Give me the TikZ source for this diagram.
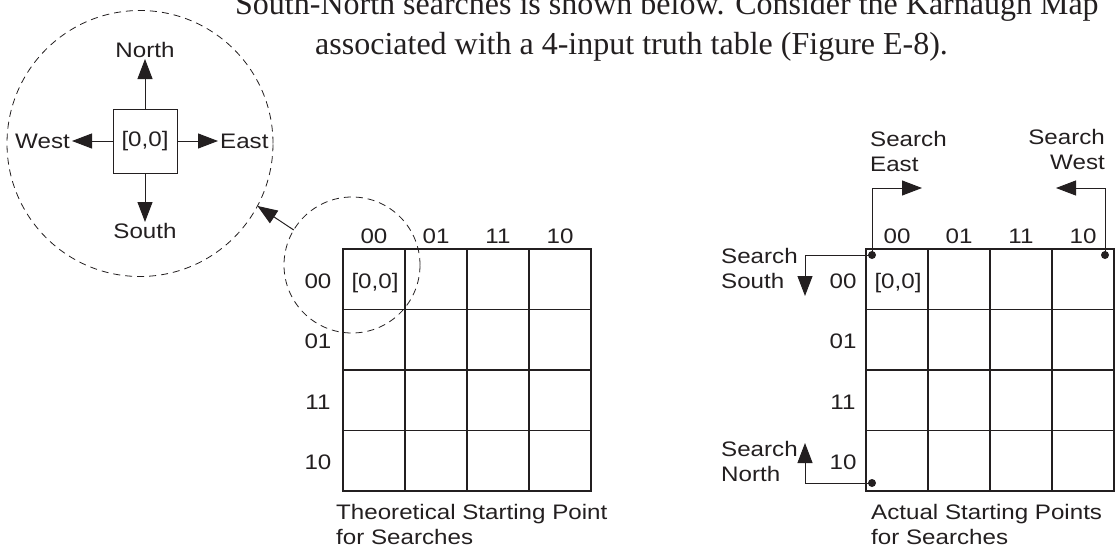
\documentclass[tikz,border=0pt]{standalone}
\usepackage{fontspec}
\setmainfont{Liberation Serif}
\newfontfamily\handfont[FakeStretch=1.15]{Liberation Sans}
\usepackage{tikz}
\usetikzlibrary{arrows.meta,positioning,calc}
\definecolor{inkblack}{RGB}{35,31,32}

\begin{document}
\begin{tikzpicture}[x=1pt,y=-1pt,color=inkblack,
  lbl/.style={font=\handfont\fontsize{21}{25}\selectfont, inner sep=1pt},
  dirlbl/.style={lbl, inner xsep=2pt, inner ysep=1pt},
  cell/.style={draw, line width=1.6pt, minimum width=62pt, minimum height=60.5pt, inner sep=0pt, outer sep=0pt},
  ring/.style={draw, line width=0.8pt, dash pattern=on 7pt off 5pt, circle, inner sep=0pt, outer sep=0pt},
  tip/.style={-{Triangle[length=20pt,width=15pt]}, line width=1pt},
  dot/.style={circle, fill, inner sep=0pt, minimum size=8pt}]
\useasboundingbox (0,0) rectangle (1120,554);

\node[anchor=base west, inner sep=0pt, font=\fontsize{32}{38}\selectfont] (lineA) at (235,15) {South-North searches is shown below. Consider the Karnaugh Map};
\node[anchor=base west, inner sep=0pt, font=\fontsize{32}{38}\selectfont] (lineB) at (315,54) {associated with a 4-input truth table (Figure E-8).};

\node[ring, minimum size=266pt] (bigring) at (140,143.5) {};
\node[ring, minimum size=136pt] (smallring) at (352,265) {};
\draw[tip] (smallring.149) -- (bigring.-28);

\node[draw, line width=0.8pt, minimum size=64pt, lbl] (origin) at (145,141) {[0,0]};
\node[dirlbl, anchor=south] (north) at (145,59) {North};
\node[dirlbl, anchor=north] (south) at (145,222) {South};
\node[dirlbl, anchor=east] (west) at (72,141) {West};
\node[dirlbl, anchor=west] (east) at (218,141) {East};
\draw[tip] (origin) -- (north);
\draw[tip] (origin) -- (south);
\draw[tip] (origin) -- (west);
\draw[tip] (origin) -- (east);

\foreach \c in {0,...,3}{
  \foreach \r in {0,...,3}{
    \node[cell] (L\r\c) at ({343+31+62*\c},{249+30.25+60.5*\r}) {};
    \node[cell] (R\r\c) at ({866+31+62*\c},{249+30.25+60.5*\r}) {};
  }
}
\foreach \v [count=\i from 0] in {00,01,11,10}{
  \node[lbl] (Lcol\i) at ({374+62*\i},236) {\v};
  \node[lbl] (Lrow\i) at (318,{281+60.5*\i}) {\v};
  \node[lbl] (Rcol\i) at ({897+62*\i},236) {\v};
  \node[lbl] (Rrow\i) at (843,{281+60.5*\i}) {\v};
}
\node[lbl] (Lstart) at (375,283) {[0,0]};
\node[lbl] (Rstart) at (898,283) {[0,0]};

\node[dot] (cornerA) at (872,255) {};
\node[dot] (cornerB) at (1105,255) {};
\node[dot] (cornerC) at (872,483) {};
\coordinate (eastEnd) at (922,188);
\coordinate (westEnd) at (1056,188);
\coordinate (southEnd) at (805,296);
\coordinate (northEnd) at (805,443);
\draw[tip] (cornerA.center) |- (eastEnd);
\draw[tip] (cornerB.center) |- (westEnd);
\draw[tip] (cornerA.center) -| (southEnd);
\draw[tip] (cornerC.center) -| (northEnd);

\node[lbl, align=left, anchor=north west] (searchE) at (869,130) {Search\\East};
\node[lbl, align=right, anchor=north east] (searchW) at (1106,128) {Search\\West};
\node[lbl, align=left, anchor=north west] (searchS) at (720,247) {Search\\South};
\node[lbl, align=left, anchor=north west] (searchN) at (720,440) {Search\\North};

\node[lbl, align=left, anchor=north west] (capL) at (335,503) {Theoretical Starting Point\\for Searches};
\node[lbl, align=left, anchor=north west] (capR) at (870,503) {Actual Starting Points\\for Searches};
\end{tikzpicture}
\end{document}
